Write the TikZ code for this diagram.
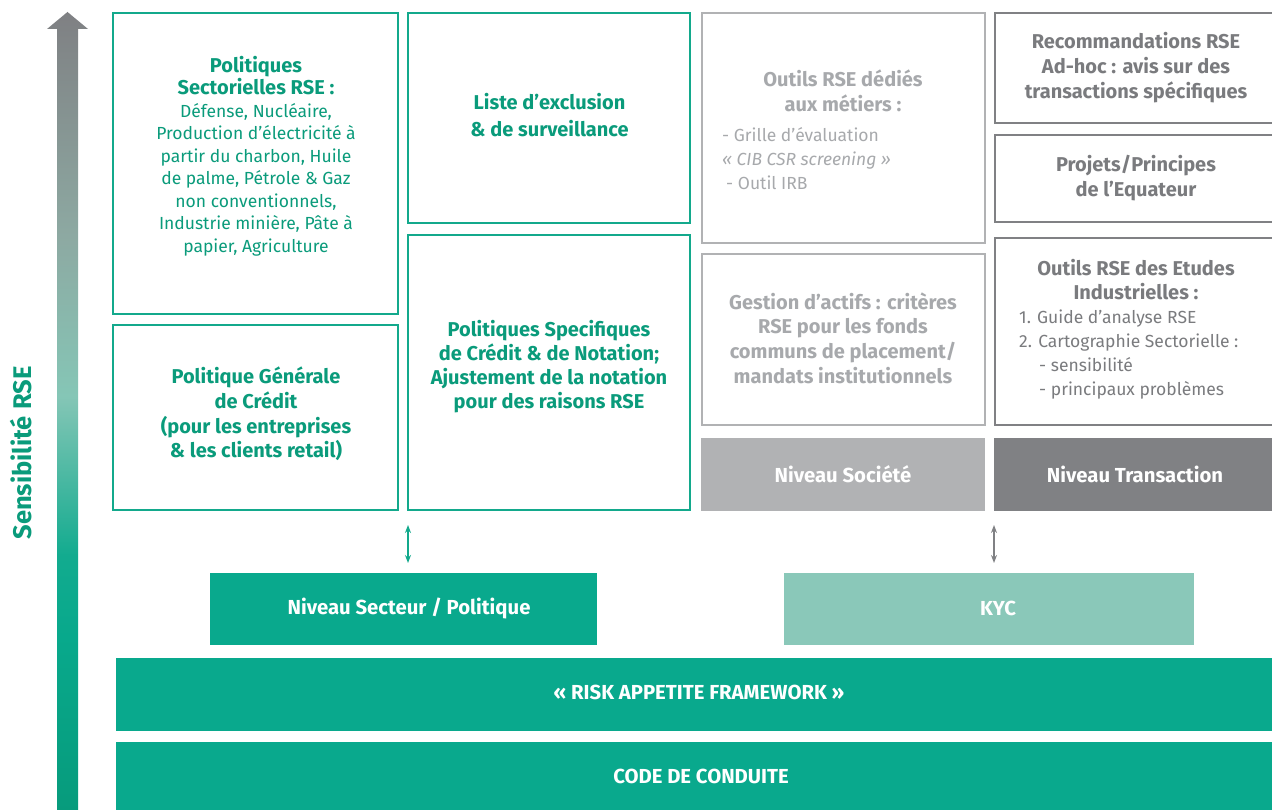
\documentclass[tikz,border=0pt]{standalone}
\usepackage{fontspec}
\setmainfont{Fira Sans}
\usetikzlibrary{arrows.meta}
\definecolor{gborder}{HTML}{13A98C}
\definecolor{gtext}{HTML}{0A9B7B}
\definecolor{lgray}{HTML}{B1B2B4}
\definecolor{lgtext}{HTML}{A7A9AC}
\definecolor{dgray}{HTML}{808184}
\definecolor{dgtext}{HTML}{7A7B7E}
\definecolor{mainteal}{HTML}{09A98D}
\definecolor{kyccol}{HTML}{8AC8B9}
\definecolor{sA}{HTML}{079B7C}
\definecolor{sB}{HTML}{08A98C}
\definecolor{sC}{HTML}{12AB8F}
\definecolor{sD}{HTML}{85C6B6}
\definecolor{sE}{HTML}{8DA9A2}
\definecolor{sF}{HTML}{7F8083}
\pgfdeclareverticalshading{sensib}{100bp}{color(0bp)=(sA); color(25bp)=(sA); color(36bp)=(sB); color(41bp)=(sC); color(51bp)=(sD); color(61bp)=(sE); color(75bp)=(sF); color(100bp)=(sF)}
\newcommand{\hbline}[1]{{\bfseries\fontsize{20}{22.5}\selectfont #1}}
\tikzset{
  gbox/.style={draw=gborder, line width=2.8pt, rectangle, inner sep=0pt, outer sep=0pt},
  lbox/.style={draw=lgray, line width=2.8pt, rectangle, inner sep=0pt, outer sep=0pt},
  dbox/.style={draw=dgray, line width=2.8pt, rectangle, inner sep=0pt, outer sep=0pt},
  fbox/.style={rectangle, inner sep=0pt, outer sep=0pt},
  gtxt/.style={text=gtext, align=center, inner sep=0pt},
  ltxt/.style={text=lgtext, align=center, inner sep=0pt},
  dtxt/.style={text=dgtext, align=center, inner sep=0pt},
  wtxt/.style={text=white, inner sep=0pt, font=\bfseries\fontsize{20.3}{22}\selectfont},
  bold/.style={font=\bfseries\fontsize{20}{#1}\selectfont},
  reg/.style={font=\fontsize{17.5}{#1}\selectfont},
  dblarrow/.style={line width=1.3pt, {Stealth[length=8pt,width=6pt]}-{Stealth[length=8pt,width=6pt]}}
}
\begin{document}
\begin{tikzpicture}[x=1pt,y=-1pt]
\useasboundingbox (0,0) rectangle (1272,810);
\fill[white] (0,0) rectangle (1272,810);

% vertical gradient arrow
\shade[shading=sensib] (57,812) -- (57,29) -- (47,29) -- (67.5,12) -- (88,29) -- (78,29) -- (78,812) -- cycle;
\node[rotate=90, text=gtext, inner sep=0pt, font=\bfseries\fontsize{25.5}{25.5}\selectfont] (sens) at (21,453) {Sensibilité RSE};

% green boxes
\node[gbox, minimum width=285pt, minimum height=301pt] (bA) at (255.5,163.5) {};
\node[gbox, minimum width=282pt, minimum height=210pt] (bB) at (549,118) {};
\node[gbox, minimum width=285pt, minimum height=185pt] (bC) at (255.5,417.5) {};
\node[gbox, minimum width=282pt, minimum height=275pt] (bD) at (549,372.5) {};
% light gray boxes
\node[lbox, minimum width=283pt, minimum height=230pt] (bE) at (843.5,128) {};
\node[lbox, minimum width=283pt, minimum height=171pt] (bF) at (843.5,339.5) {};
\node[fbox, fill=lgray, minimum width=284pt, minimum height=73pt] (soc) at (843,474.5) {};
% dark gray boxes
\node[dbox, minimum width=280pt, minimum height=110pt] (bG) at (1135,68) {};
\node[dbox, minimum width=280pt, minimum height=87pt] (bH) at (1135,178.5) {};
\node[dbox, minimum width=280pt, minimum height=187pt] (bI) at (1135,331.5) {};
\node[fbox, fill=dgray, minimum width=281pt, minimum height=73pt] (tra) at (1134.5,474.5) {};
% bottom bars
\node[fbox, fill=mainteal, minimum width=387pt, minimum height=72pt] (sec) at (403.5,609) {};
\node[fbox, fill=kyccol, minimum width=410pt, minimum height=72pt] (kyc) at (989,609) {};
\node[fbox, fill=mainteal, minimum width=1159pt, minimum height=73pt] (raf) at (695.5,694.5) {};
\node[fbox, fill=mainteal, minimum width=1159pt, minimum height=73pt] (cod) at (695.5,778.5) {};

% texts
\node[gtxt, reg=22.5] (tA) at (256,156) {\hbline{Politiques}\\\hbline{Sectorielles RSE :}\\Défense, Nucléaire,\\Production d’électricité à\\partir du charbon, Huile\\de palme, Pétrole \& Gaz\\non conventionnels,\\Industrie minière, Pâte à\\papier, Agriculture};
\node[gtxt, font=\bfseries\fontsize{20}{27}\selectfont] (tB) at (549.5,115.5) {Liste d’exclusion\\\& de surveillance};
\node[gtxt, font=\bfseries\fontsize{20}{24.7}\selectfont] (tC) at (256,414) {Politique Générale\\de Crédit\\(pour les entreprises\\\& les clients retail)};
\node[gtxt, font=\bfseries\fontsize{20}{24}\selectfont] (tD) at (549,367) {Politiques Specifiques\\de Crédit \& de Notation;\\Ajustement de la notation\\pour des raisons RSE};

\node[ltxt, bold=25] (tE1) at (843,90.5) {Outils RSE dédiés\\aux métiers :};
\node[ltxt, reg=24, align=left, anchor=west] (tE2) at (722,159) {- Grille d’évaluation\\\textit{«~CIB CSR screening~»}\\\hspace*{4pt}- Outil IRB};
\node[ltxt, bold=24.7] (tF) at (843,338) {Gestion d’actifs : critères\\RSE pour les fonds\\communs de placement/\\mandats institutionnels};

\node[dtxt, bold=25] (tG) at (1136,68) {Recommandations RSE\\Ad-hoc : avis sur des\\transactions spécifiques};
\node[dtxt, bold=25] (tH) at (1136,178.5) {Projets/Principes\\de l’Equateur};
\node[dtxt, bold=24] (tI1) at (1136,280) {Outils RSE des Etudes\\Industrielles :};
\node[dtxt, reg=24.3, align=left, anchor=west] (tI2) at (1019,354.5) {1. Guide d’analyse RSE\\2. Cartographie Sectorielle :\\\hspace*{20pt}- sensibilité\\\hspace*{20pt}- principaux problèmes};

\node[wtxt] (tsoc) at (843,474) {Niveau Société};
\node[wtxt] (ttra) at (1135,474) {Niveau Transaction};
\node[wtxt] (tsec) at (409,608) {Niveau Secteur / Politique};
\node[wtxt] (tkyc) at (998,608) {KYC};
\node[wtxt] (traf) at (699,692) {«~RISK APPETITE FRAMEWORK~»};
\node[wtxt] (tcod) at (701,776) {CODE DE CONDUITE};

% double arrows
\coordinate (ga1) at (408,525);
\coordinate (ga2) at (408,563);
\coordinate (da1) at (994,525);
\coordinate (da2) at (994,563);
\draw[dblarrow, gborder] (ga1) -- (ga2);
\draw[dblarrow, dgray] (da1) -- (da2);
\end{tikzpicture}
\end{document}
